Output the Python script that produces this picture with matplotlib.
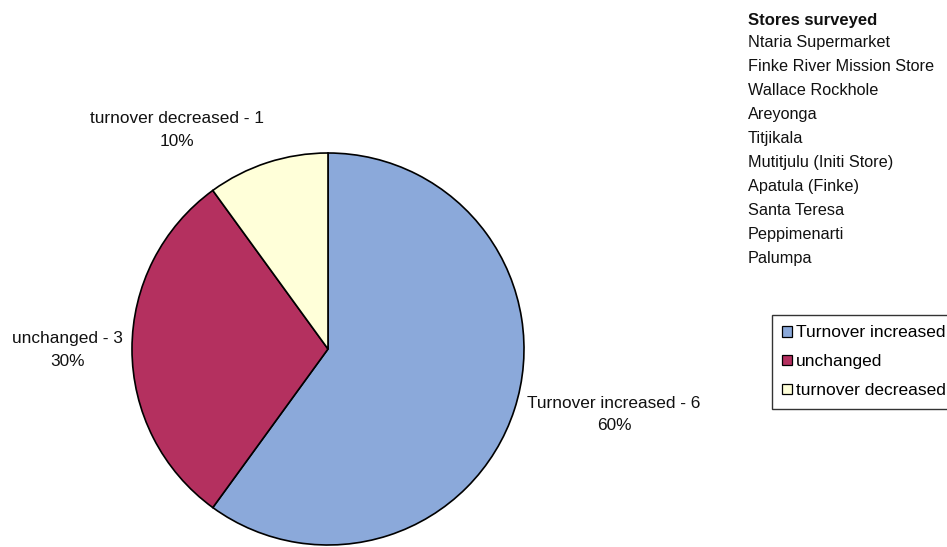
import matplotlib.pyplot as plt
from matplotlib.patches import Patch

plt.rcParams['font.family'] = ['Liberation Sans', 'DejaVu Sans']

categories = ["Turnover increased", "unchanged", "turnover decreased"]
counts = [6, 3, 1]
colors = ["#8ba9da", "#b4305f", "#ffffd9"]
stores = ["Ntaria Supermarket", "Finke River Mission Store", "Wallace Rockhole",
          "Areyonga", "Titjikala", "Mutitjulu (Initi Store)", "Apatula (Finke)",
          "Santa Teresa", "Peppimenarti", "Palumpa"]

# label positions (pie radius units), layout only
label_pos = [(1.46, -0.334), (-1.33, -0.005), (-0.77, 1.117)]

W, H = 947, 547
fig = plt.figure(figsize=(W / 100, H / 100), dpi=100)
cx, cy, r = 328, 349, 196
ax = fig.add_axes([(cx - r) / W, (H - cy - r) / H, 2 * r / W, 2 * r / H])

wedges, _ = ax.pie(counts, colors=colors, startangle=90, counterclock=False,
                   wedgeprops=dict(edgecolor="black", linewidth=1.2))
ax.set_xlim(-1, 1)
ax.set_ylim(-1, 1)
ax.set_aspect('equal')

total = sum(counts)
for name, n, (lx, ly) in zip(categories, counts, label_pos):
    ax.text(lx, ly, f"{name} - {n}\n{round(100 * n / total)}%", ha="center", va="center",
            fontsize=12.4, color="#111111", linespacing=1.6, clip_on=False)

# store list
x0 = 748 / W
fig.text(x0, 1 - 20 / H, "Stores surveyed", fontsize=12, fontweight="bold",
         va="center", color="#111111")
for i, s in enumerate(stores):
    fig.text(x0, 1 - (43 + i * 23.9) / H, s, fontsize=11.7, va="center", color="#111111")

handles = [Patch(facecolor=c, edgecolor="black", linewidth=0.9) for c in colors]
leg = fig.legend(handles, categories, loc="upper left",
                 bbox_to_anchor=(772 / W, 1 - 315 / H), fontsize=12.5,
                 frameon=True, fancybox=False, handlelength=0.55, handleheight=0.55,
                 handletextpad=0.25, borderpad=0.6, labelspacing=0.8, borderaxespad=0)
leg.get_frame().set_edgecolor("black")
leg.get_frame().set_linewidth(1.0)

fig.savefig("out.png", dpi=100)
